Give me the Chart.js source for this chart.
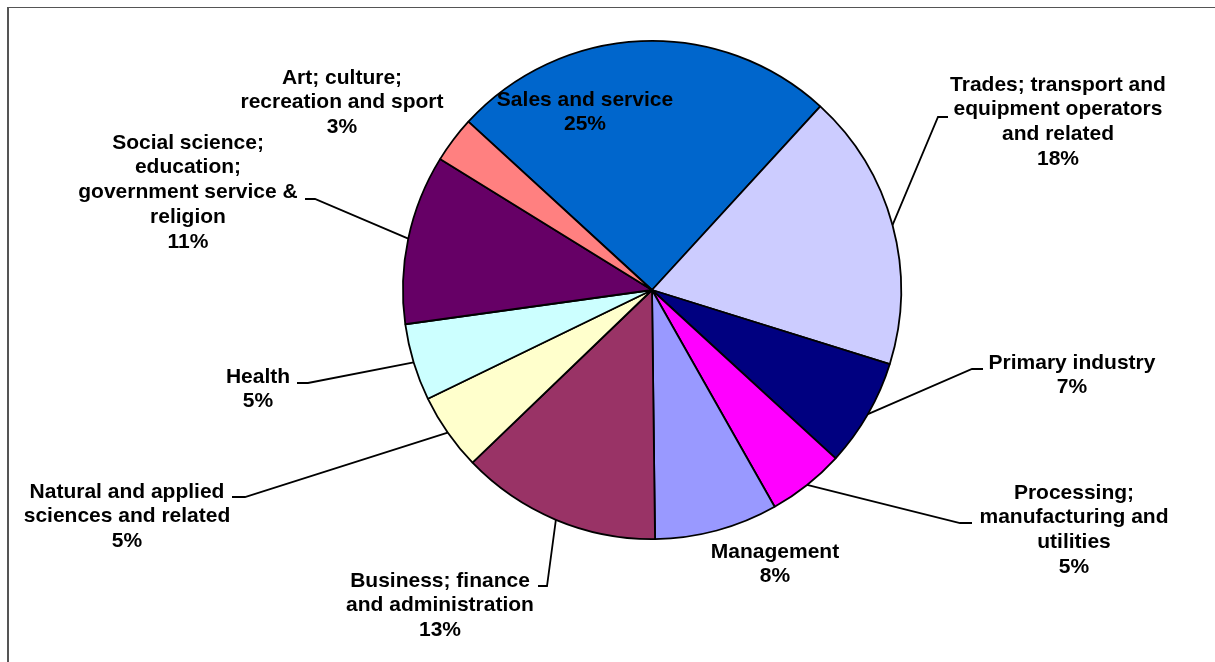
<!DOCTYPE html>
<html>
<head>
<meta charset="utf-8">
<script src="https://cdn.jsdelivr.net/npm/chart.js@4/dist/chart.umd.min.js"></script>
<style>
  html, body { margin: 0; padding: 0; background: #fff; }
  canvas { display: block; }
</style>
</head>
<body>
<canvas id="occupationChart" width="1215" height="662"></canvas>
<script>
// Occupation groups, clockwise from "Sales and service"
const categories = [
  ['Sales and service'],
  ['Trades; transport and', 'equipment operators', 'and related'],
  ['Primary industry'],
  ['Processing;', 'manufacturing and', 'utilities'],
  ['Management'],
  ['Business; finance', 'and administration'],
  ['Natural and applied', 'sciences and related'],
  ['Health'],
  ['Social science;', 'education;', 'government service &', 'religion'],
  ['Art; culture;', 'recreation and sport']
];
const shares = [25, 18, 7, 5, 8, 13, 5, 5, 11, 3];
const sliceColors = [
  '#0066CC', '#CCCCFF', '#000080', '#FF00FF', '#9999FF',
  '#993366', '#FFFFCC', '#CCFFFF', '#660066', '#FF8080'
];

// where each label block sits (centre x, first line y) and its leader elbow
const labelLayout = [
  { x: 585, y: 100 },
  { x: 1058, y: 85, elbow: [938, 117], tail: [948, 117] },
  { x: 1072, y: 363, elbow: [972, 369], tail: [983, 369] },
  { x: 1074, y: 493, elbow: [960, 523], tail: [972, 523] },
  { x: 775, y: 552 },
  { x: 440, y: 581, elbow: [547, 586], tail: [538, 586] },
  { x: 127, y: 492, elbow: [245, 497], tail: [232, 497] },
  { x: 258, y: 377, elbow: [308, 383], tail: [297, 383] },
  { x: 188, y: 143, elbow: [315, 199], tail: [305, 199] },
  { x: 342, y: 78 }
];

const LINE_HEIGHT = 24.7;

const framePlugin = {
  id: 'frame',
  beforeDraw(chart) {
    const ctx = chart.ctx;
    ctx.save();
    ctx.fillStyle = '#fff';
    ctx.fillRect(0, 0, chart.width, chart.height);
    ctx.fillStyle = '#555';
    ctx.fillRect(7, 7, chart.width - 7, 1);
    ctx.fillRect(7, 7, 2, chart.height - 7);
    ctx.restore();
  }
};

const sliceLabelPlugin = {
  id: 'sliceLabels',
  afterDatasetsDraw(chart) {
    const ctx = chart.ctx;
    const arcs = chart.getDatasetMeta(0).data;
    ctx.save();
    ctx.strokeStyle = '#000';
    ctx.lineWidth = 1.8;
    arcs.forEach((arc, i) => {
      const pos = labelLayout[i];
      if (!pos.elbow) return;
      const p = arc.getProps(['x', 'y', 'startAngle', 'endAngle', 'outerRadius'], true);
      const mid = (p.startAngle + p.endAngle) / 2;
      ctx.beginPath();
      ctx.moveTo(p.x + Math.cos(mid) * p.outerRadius, p.y + Math.sin(mid) * p.outerRadius);
      ctx.lineTo(pos.elbow[0], pos.elbow[1]);
      ctx.lineTo(pos.tail[0], pos.tail[1]);
      ctx.stroke();
    });

    ctx.fillStyle = '#000';
    ctx.font = 'bold 21px "Liberation Sans", Arial, sans-serif';
    ctx.textAlign = 'center';
    ctx.textBaseline = 'middle';
    categories.forEach((lines, i) => {
      const pos = labelLayout[i];
      const text = lines.concat([shares[i] + '%']);
      text.forEach((line, k) => {
        ctx.fillText(line, pos.x, pos.y + k * LINE_HEIGHT);
      });
    });
    ctx.restore();
  }
};

new Chart(document.getElementById('occupationChart'), {
  type: 'pie',
  data: {
    labels: categories,
    datasets: [{
      data: shares,
      backgroundColor: sliceColors,
      borderColor: '#000',
      borderWidth: 1.8
    }]
  },
  options: {
    responsive: false,
    animation: false,
    rotation: -47.5,
    layout: {
      padding: { top: 40, bottom: 122, left: 402, right: 313 }
    },
    plugins: {
      legend: { display: false },
      tooltip: { enabled: false }
    },
    events: []
  },
  plugins: [framePlugin, sliceLabelPlugin]
});
</script>
</body>
</html>
